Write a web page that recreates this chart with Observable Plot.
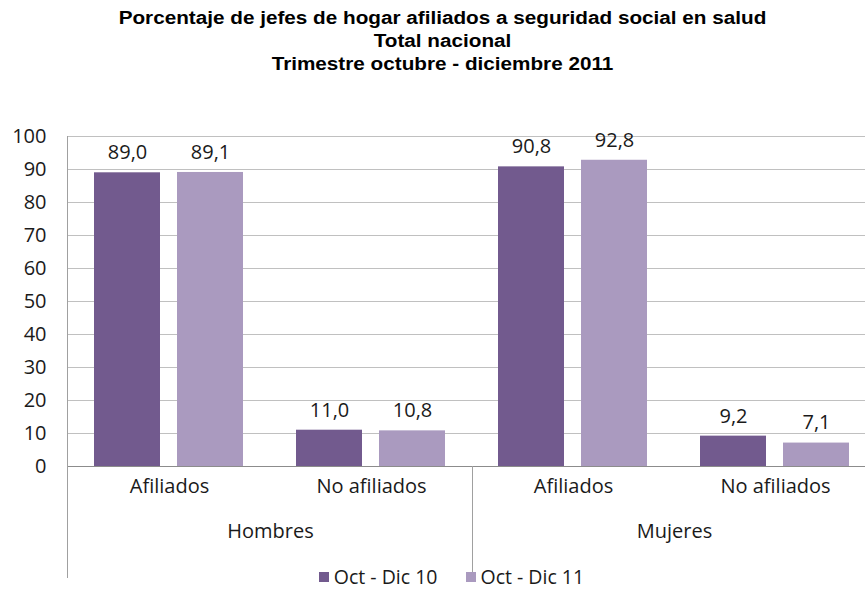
<!DOCTYPE html>
<html>
<head>
<meta charset="utf-8">
<script src="https://cdn.jsdelivr.net/npm/d3@7"></script>
<script src="https://cdn.jsdelivr.net/npm/@observablehq/plot@0.6"></script>
<style>
  body { margin: 0; background: #fff; width: 865px; height: 591px; overflow: hidden; }
  #title { height: 100px; box-sizing: border-box; padding-top: 7px; padding-left: 20px; text-align: center;
           font-family: "Liberation Sans", Arial, sans-serif; font-weight: bold; font-size: 18px; line-height: 23px; color: #000; }
  #title div { display: block; transform: scaleX(1.15); transform-origin: center; }
  #chart svg { display: block; overflow: visible; }
  #legend { margin-top: -11px; height: 20px; line-height: 20px; display: flex; justify-content: center; padding-left: 38px; gap: 28px;
            font-family: "Open Sans", sans-serif; font-size: 19.5px; color: #1a1a1a; }
  #legend span.sw { display: inline-block; width: 10px; height: 10px; margin-right: 5px; }
  #legend .item { display: flex; align-items: center; }
</style>
</head>
<body>
<div id="title"><div>Porcentaje de jefes de hogar afiliados a seguridad social en salud</div><div>Total nacional</div><div>Trimestre octubre - diciembre 2011</div></div>
<div id="chart"></div>
<div id="legend"></div>
<script>
const genders = ["Hombres", "Mujeres"];
const statuses = ["Afiliados", "No afiliados"];
const periods = ["Oct - Dic 10", "Oct - Dic 11"];
// values per gender × status, in order: Hombres-Afiliados, Hombres-No afiliados, Mujeres-Afiliados, Mujeres-No afiliados
const values10 = [89.0, 11.0, 90.8, 9.2];
const values11 = [89.1, 10.8, 92.8, 7.1];
const yTicks = [0, 10, 20, 30, 40, 50, 60, 70, 80, 90, 100];
const colors = ["#725A8E", "#AA9ABF"];

const cats = [];
genders.forEach(g => statuses.forEach(s => cats.push({key: g + "|" + s, gender: g, status: s})));
const keys = cats.map(c => c.key);
const rows = [];
cats.forEach((c, i) => {
  rows.push({key: c.key, gender: c.gender, status: c.status, period: periods[0], value: values10[i]});
  rows.push({key: c.key, gender: c.gender, status: c.status, period: periods[1], value: values11[i]});
});
const groupRows = cats.filter(c => c.status === statuses[0]);

const font = "'Open Sans', sans-serif";
const W = 865, H = 478, mL = 67, mR = -12, mT = 36, mB = 112;

const plot = Plot.plot({
  width: W, height: H,
  marginLeft: mL, marginRight: mR, marginTop: mT, marginBottom: mB,
  style: {fontFamily: font, fontSize: "20px", color: "#1a1a1a", background: "transparent", overflow: "visible"},
  fx: {domain: keys, padding: 0, axis: null, label: null},
  x: {domain: periods, paddingInner: 0.2024, paddingOuter: 0.31, axis: null, label: null},
  y: {domain: [0, 100], ticks: yTicks, tickSize: 0, tickPadding: 22, label: null, tickFormat: d => String(d)},
  color: {domain: periods, range: colors},
  marks: [
    Plot.ruleY(yTicks.filter(t => t > 0), {stroke: "#c0c0c0", strokeWidth: 1}),
    Plot.barY(rows, {fx: "key", x: "period", y: "value", fill: "period"}),
    Plot.ruleY([0], {stroke: "#8c8c8c", strokeWidth: 1}),
    Plot.text(rows, {fx: "key", x: "period", y: "value", text: d => d.value.toFixed(1).replace(".", ","), dy: -20, fill: "#1a1a1a", fontSize: 20}),
    Plot.text(cats, {fx: "key", frameAnchor: "bottom", dy: 26, text: "status", fill: "#1a1a1a", fontSize: 20}),
    Plot.text(groupRows, {fx: "key", frameAnchor: "bottom-right", textAnchor: "middle", dy: 71, text: "gender", fill: "#1a1a1a", fontSize: 20})
  ]
});
document.getElementById("chart").appendChild(plot);

// separator lines between groups, using the fx scale
const fxs = plot.scale("fx");
const band = d3.scaleBand().domain(fxs.domain).range(fxs.range).padding(0);
const yS = plot.scale("y");
const yScale = d3.scaleLinear().domain(yS.domain).range(yS.range);
const svg = d3.select(plot.tagName.toLowerCase() === "svg" ? plot : plot.querySelector("svg"));
const sep = svg.append("g").attr("stroke", "#a0a0a0").attr("stroke-width", 1);
groupRows.forEach((c, i) => {
  const x = Math.round(band(c.key)) + 0.5;
  sep.append("line").attr("x1", x).attr("x2", x)
    .attr("y1", i === 0 ? yScale(100) : yScale(0)).attr("y2", H);
});
const xr = Math.round(band.range()[1]) + 0.5;
sep.append("line").attr("x1", xr).attr("x2", xr).attr("y1", yScale(0)).attr("y2", H);

// legend
const lg = d3.select("#legend");
periods.forEach((p, i) => {
  const it = lg.append("div").attr("class", "item");
  it.append("span").attr("class", "sw").style("background", colors[i]);
  it.append("span").text(p);
});
</script>
</body>
</html>
